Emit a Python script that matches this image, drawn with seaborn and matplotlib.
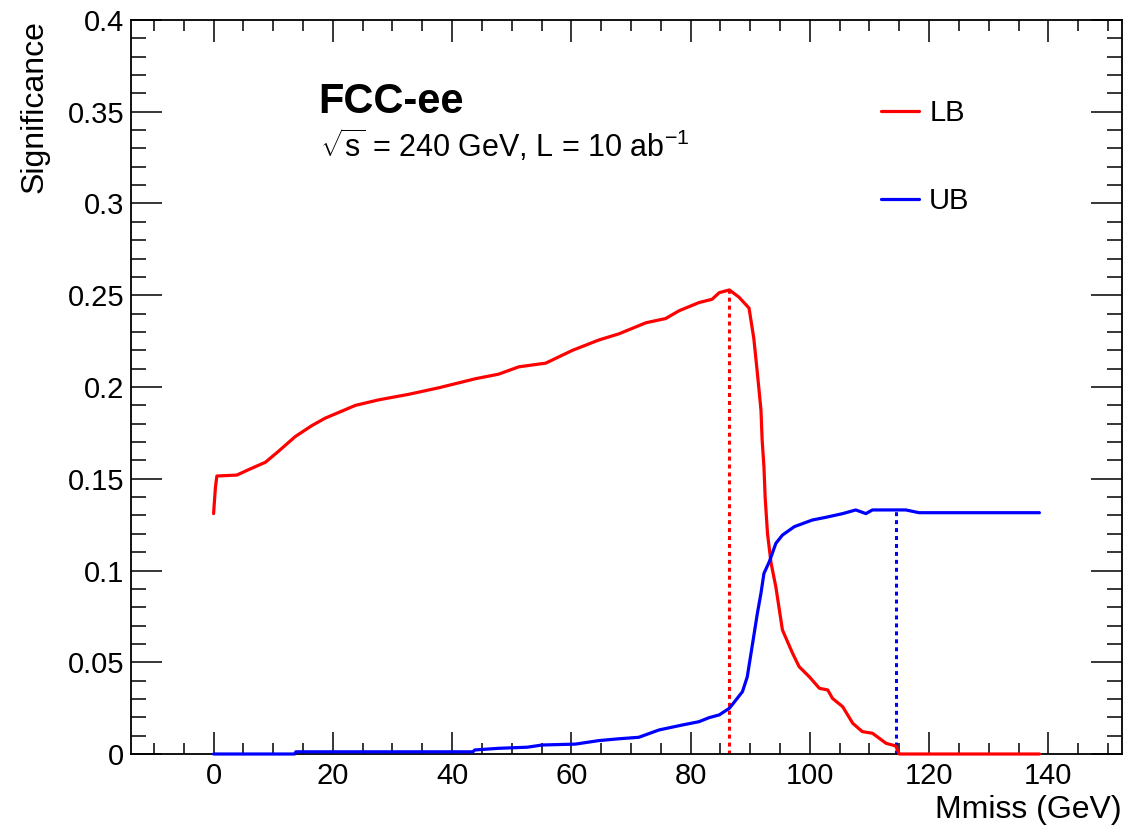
import numpy as np
import pandas as pd
import matplotlib
matplotlib.use("Agg")
import matplotlib.pyplot as plt
import seaborn as sns
from matplotlib.ticker import MultipleLocator

# ---------------- data ----------------
lb_x = [0, 0.3, 0.55, 3.9, 5.9, 8.7, 10.9, 13.7, 16.5, 18.7, 23.8, 27.7, 32.7, 37.8,
        43.9, 47.8, 51.2, 55.7, 60.2, 64.6, 68.0, 72.5, 75.8, 78.1, 81.4, 83.6, 84.8,
        86.5, 88.1, 89.8, 90.6, 91.2, 91.8, 92.0, 92.3, 92.5, 92.9, 93.5, 94.3, 95.4,
        97.1, 98.2, 99.9, 101.6, 103.0, 103.8, 105.5, 107.2, 108.8, 110.5, 112.8,
        114.4, 115.0, 138.5]
lb_y = [0.131, 0.145, 0.1515, 0.152, 0.155, 0.159, 0.165, 0.173, 0.179, 0.183, 0.190,
        0.193, 0.196, 0.1996, 0.2045, 0.207, 0.211, 0.213, 0.220, 0.2256, 0.229, 0.235,
        0.2373, 0.2416, 0.246, 0.2478, 0.2514, 0.2529, 0.249, 0.243, 0.2265, 0.2075,
        0.1875, 0.171, 0.1566, 0.140, 0.120, 0.104, 0.091, 0.0676, 0.0549, 0.0476,
        0.0421, 0.0358, 0.0349, 0.0303, 0.0258, 0.0167, 0.0122, 0.0113, 0.0058,
        0.0044, 0.0, 0.0]

ub_x = [0, 13.6, 13.8, 43.5, 43.8, 47.8, 52.6, 55.1, 60.7, 64.6, 68.0, 71.3, 74.7,
        78.6, 81.4, 83.1, 84.8, 86.5, 87.5, 88.7, 89.5, 90.4, 91.2, 91.8, 92.3, 93.2,
        94.3, 95.4, 97.4, 100.4, 102.7, 105.5, 107.7, 109.4, 110.5, 116.1, 118.3, 138.5]
ub_y = [0, 0, 0.0012, 0.0012, 0.0022, 0.0031, 0.0037, 0.0049, 0.0054, 0.0073, 0.0083,
        0.0091, 0.0131, 0.0158, 0.0176, 0.0198, 0.0213, 0.0249, 0.029, 0.034, 0.042,
        0.0603, 0.0767, 0.0876, 0.0984, 0.1048, 0.1148, 0.1193, 0.1239, 0.1275, 0.129,
        0.131, 0.133, 0.131, 0.133, 0.133, 0.1315, 0.1315]

opt_x = [86.5, 114.5]      # optimal cut positions (LB, UB)
opt_y = [0.2529, 0.1325]   # significance at the optimum
series_names = ["LB", "UB"]
series_colors = ["#ff0000", "#0000ff"]

df = pd.concat([
    pd.DataFrame({"Mmiss": lb_x, "Significance": lb_y, "series": "LB"}),
    pd.DataFrame({"Mmiss": ub_x, "Significance": ub_y, "series": "UB"}),
], ignore_index=True)

# ---------------- style ----------------
sns.set_style("ticks")
plt.rcParams["font.family"] = ["Liberation Sans", "DejaVu Sans"]
plt.rcParams["mathtext.fontset"] = "custom"
plt.rcParams["mathtext.rm"] = "Liberation Sans"
plt.rcParams["mathtext.it"] = "Liberation Sans"
plt.rcParams["mathtext.bf"] = "Liberation Sans:bold"
plt.rcParams["text.color"] = "black"
plt.rcParams["xtick.color"] = "black"
plt.rcParams["ytick.color"] = "black"
plt.rcParams["axes.labelcolor"] = "black"

fig = plt.figure(figsize=(11.43, 8.25), dpi=100)
ax = fig.add_axes([131/1143, 1-754/825, (1122-131)/1143, (754-20)/825])

sns.lineplot(data=df, x="Mmiss", y="Significance", hue="series",
             palette=dict(zip(series_names, series_colors)), linewidth=2.3,
             sort=False, estimator=None, ax=ax, zorder=3, clip_on=False)

for xv, yv, c in zip(opt_x, opt_y, series_colors):
    ax.vlines(xv, 0, yv, colors=c, linestyles=(0, (1.3, 1.3)), linewidth=2.2, zorder=2)

ax.set_xlim(-13.85, 152.35)
ax.set_ylim(0, 0.4)
ax.xaxis.set_major_locator(MultipleLocator(20))
ax.xaxis.set_minor_locator(MultipleLocator(5))
ax.yaxis.set_major_locator(MultipleLocator(0.05))
ax.yaxis.set_minor_locator(MultipleLocator(0.01))
ax.yaxis.set_major_formatter(matplotlib.ticker.FuncFormatter(
    lambda v, p: f"{v:.2f}".rstrip("0").rstrip(".") if v != 0 else "0"))

ax.tick_params(axis="x", which="major", direction="in", length=16, width=1.1,
               top=True, labelsize=21, pad=6, colors="black")
ax.tick_params(axis="x", which="minor", direction="in", length=8, width=1.1, top=True,
               colors="black")
ax.tick_params(axis="y", which="major", direction="in", length=22, width=1.1,
               right=True, labelsize=21, pad=5, colors="black")
ax.tick_params(axis="y", which="minor", direction="in", length=11, width=1.1, right=True,
               colors="black")
for s in ax.spines.values():
    s.set_linewidth(1.3)
    s.set_color("black")

ax.set_xlabel("")
ax.set_ylabel("")
fig.text(1122/1143, 1-818/825, "Mmiss (GeV)", ha="right", va="baseline", fontsize=23)
fig.text(20/1143, 1-20/825, "Significance", ha="right", va="top", rotation=90,
         fontsize=23, rotation_mode="anchor")

ax.text((318-131)/991, 1-(113-20)/734, "FCC-ee", transform=ax.transAxes,
        fontsize=30, fontweight="bold", ha="left", va="baseline")
ax.text((320-131)/991, 1-(157-20)/734, r"$\sqrt{\mathrm{s}}$ = 240 GeV, L = 10 ab$^{-1}$",
        transform=ax.transAxes, fontsize=22, ha="left", va="baseline")

leg = ax.legend(loc="upper left", bbox_to_anchor=((881-131)/991, 1-(99-20)/734),
                frameon=False, fontsize=21, handlelength=1.3, handletextpad=0.35,
                labelspacing=2.05, borderpad=0, borderaxespad=0)
for line in leg.get_lines():
    line.set_linewidth(2.3)

fig.savefig("out.png", dpi=100)
